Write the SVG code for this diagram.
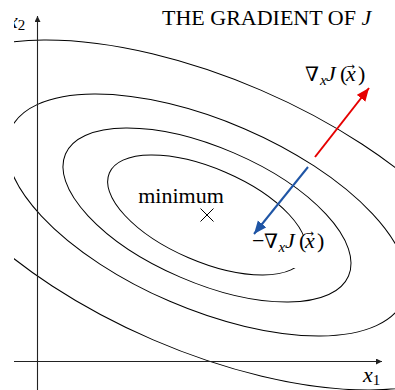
<svg xmlns="http://www.w3.org/2000/svg" width="395" height="390" viewBox="0 0 395 390">
<style>
.contour{fill:none;stroke:#000;stroke-width:1}
.axis{fill:none;stroke:#222;stroke-width:1.1}
.t{font-family:"Liberation Serif","DejaVu Serif",serif;fill:#000}
.it{font-style:italic}
.nabla{font-family:"DejaVu Serif",serif}
.vec{font-family:"DejaVu Sans",sans-serif;fill:#000}
</style>
<defs>
<clipPath id="clip"><rect x="14" y="0" width="381" height="390"/></clipPath>
<marker id="axhead" markerUnits="userSpaceOnUse" markerWidth="8" markerHeight="8" refX="6" refY="3" orient="auto"><path d="M0,0 L6,3 L0,6 Z" fill="#222"/></marker>
<marker id="redhead" markerUnits="userSpaceOnUse" markerWidth="14" markerHeight="12" refX="13" refY="5.5" orient="auto"><path d="M0,0 L13,5.5 L0,11 Z" fill="#e60000"/></marker>
<marker id="bluehead" markerUnits="userSpaceOnUse" markerWidth="14" markerHeight="12" refX="13" refY="5.5" orient="auto"><path d="M0,0 L13,5.5 L0,11 Z" fill="#1f55a5"/></marker>
</defs>
<g clip-path="url(#clip)">
<g id="contours">
<ellipse class="contour" cx="207" cy="215" rx="106.3" ry="46.6" transform="rotate(23.3 207 215)"/>
<ellipse class="contour" cx="207" cy="215" rx="154.1" ry="67.6" transform="rotate(23.3 207 215)"/>
<ellipse class="contour" cx="207" cy="215" rx="214.4" ry="94" transform="rotate(23.3 207 215)"/>
<ellipse class="contour" cx="207" cy="215" rx="310" ry="136" transform="rotate(23.3 207 215)"/>
</g>
<g id="axes">
<line class="axis" x1="10" y1="361.5" x2="382" y2="361.5" marker-end="url(#axhead)"/>
<line class="axis" x1="37.5" y1="392" x2="37.5" y2="16" marker-end="url(#axhead)"/>
</g>
<g id="axis-labels">
<text class="t" x="8" y="28" font-size="22"><tspan class="it">x</tspan><tspan font-size="15" dy="2">2</tspan></text>
<text class="t" x="363" y="382" font-size="22"><tspan class="it">x</tspan><tspan font-size="15" dy="3">1</tspan></text>
</g>
</g>
<g id="title"><text class="t" x="162" y="25" font-size="22">THE GRADIENT OF <tspan class="it">J</tspan></text></g>
<g id="minimum">
<text class="t" x="181" y="203" font-size="22" text-anchor="middle">minimum</text>
<path d="M200.5,208.5 L213.5,221.5 M213.5,208.5 L200.5,221.5" stroke="#000" stroke-width="1" fill="none"/>
</g>
<g id="connectors">
<line x1="315" y1="157" x2="369" y2="88" stroke="#e60000" stroke-width="2" marker-end="url(#redhead)"/>
<line x1="308" y1="167" x2="254" y2="234" stroke="#1f55a5" stroke-width="2" marker-end="url(#bluehead)"/>
</g>
<g id="grad-label">
<text class="t" font-size="22" y="81"><tspan class="nabla" x="305" font-size="20">∇</tspan><tspan class="it" font-size="15" x="320" dy="4">x</tspan><tspan class="it" x="326" dy="-4">J</tspan><tspan x="340">(</tspan><tspan class="it" x="346">x</tspan><tspan x="358">)</tspan></text>
<text class="vec" x="346.5" y="70" font-size="10">→</text>
</g>
<g id="neg-grad-label">
<rect x="249" y="236" width="78" height="32" fill="#fff"/>
<text class="t" font-size="22" y="248"><tspan x="252">−</tspan><tspan class="nabla" x="264" font-size="20">∇</tspan><tspan class="it" font-size="15" x="278.5" dy="4">x</tspan><tspan class="it" x="285" dy="-4">J</tspan><tspan x="299">(</tspan><tspan class="it" x="305">x</tspan><tspan x="317">)</tspan></text>
<text class="vec" x="305.5" y="237" font-size="10">→</text>
</g>
</svg>
